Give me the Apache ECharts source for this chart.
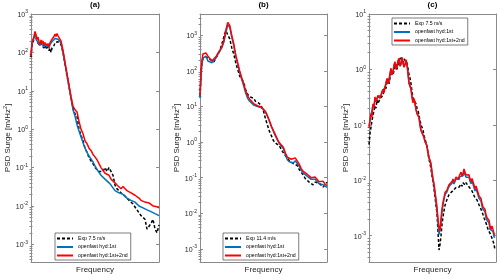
<!DOCTYPE html>
<html><head><meta charset="utf-8">
<script src="https://cdn.jsdelivr.net/npm/echarts@6/dist/echarts.min.js"></script>
<style>html,body{margin:0;padding:0;background:#fff}#c{width:500px;height:280px}</style>
</head><body><div id="c"></div>
<script>
// ---------- panel (a) ----------
const freqA = [0,1,2,3,4,5,6,7,8,9,10,11,12,13,14,15,16,17,18,19,20,21,22,23,24,25,26,27,28,
  30,32,34,36,38,40,42,44,46,48,50,52,54,56,58,60,62,64,66,68,70,72,74,76,78,80,82,84,86,88,90,92,94,96,98,100,102,104,106,108,110,112,114,116,118,120,122,124,126,128];
const expA = [75,150,180,230,280,240,190,210,170,150,170,150,160,130,150,160,120,140,110,130,100,130,140,150,180,170,200,190,170,
  160,100,50,25,13,6.6,3.5,2.5,2.2,1.0,0.7,0.5,0.32,0.25,0.18,0.16,0.126,0.1,0.089,0.079,0.071,0.079,0.1,0.079,0.1,0.089,0.063,0.035,0.028,0.025,0.022,0.02,0.018,0.016,0.014,0.0126,0.0112,0.01,0.0079,0.0071,0.0056,0.005,0.0045,0.0025,0.0028,0.0035,0.0045,0.0025,0.002,0.0032];
const hyd1A = [90,170,190,240,300,260,200,220,180,150,190,160,180,140,170,180,140,160,130,160,150,190,180,210,230,210,240,220,230,
  178,100,50,25,12.6,6.3,3.2,2.2,1.3,0.9,0.63,0.45,0.32,0.25,0.2,0.18,0.14,0.11,0.089,0.079,0.063,0.063,0.05,0.045,0.04,0.035,0.032,0.025,0.025,0.022,0.02,0.02,0.018,0.016,0.016,0.014,0.0126,0.0126,0.0112,0.01,0.01,0.0089,0.0089,0.0079,0.0079,0.0071,0.0071,0.0063,0.006,0.0056];
const hyd12A = [80,180,200,260,350,290,220,250,190,160,210,170,200,150,180,200,150,170,140,180,160,220,200,260,300,260,310,270,280,
  200,112,56,28,14,7.1,4.0,3.2,2.8,1.6,1.0,0.76,0.5,0.42,0.32,0.28,0.22,0.19,0.16,0.126,0.1,0.089,0.071,0.063,0.063,0.05,0.05,0.04,0.035,0.032,0.028,0.032,0.032,0.025,0.024,0.022,0.02,0.019,0.018,0.016,0.014,0.015,0.0126,0.0112,0.012,0.0107,0.01,0.0089,0.0095,0.0089];

// ---------- panel (b) ----------
const freqB = [0,1,2,3,4,6,8,10,12,14,16,18,20,22,24,26,28,30,32,34,36,38,40,42,44,46,48,50,52,54,56,58,60,62,64,66,68,70,72,74,76,78,80,82,84,86,88,90,92,94,96,98,100,102,104,106,108,110,112,114,116,118,120,122,124,126,128];
const expB = [20,80,180,220,230,250,230,210,190,180,230,290,380,560,900,1350,1200,800,450,300,170,110,72,58,48,30,22,19,18,17,14,13,12,10,7.5,4.5,3.0,2.0,1.5,1.1,0.95,0.9,0.78,0.62,0.5,0.42,0.38,0.3,0.27,0.25,0.25,0.22,0.17,0.14,0.12,0.095,0.085,0.075,0.068,0.063,0.075,0.08,0.07,0.065,0.055,0.062,0.075];
const hyd1B = [17,80,170,230,240,260,190,170,170,190,230,290,360,450,640,1150,1950,1700,900,520,260,150,90,58,38,24,17,14,12.5,11,10.5,10,9.2,9.2,8.2,7.0,5.3,3.8,2.7,2.0,1.5,1.15,0.9,0.8,0.66,0.45,0.32,0.28,0.28,0.26,0.3,0.28,0.21,0.16,0.135,0.12,0.11,0.1,0.09,0.085,0.09,0.08,0.068,0.07,0.063,0.058,0.053];
const hyd12B = [20,90,200,300,280,320,260,230,190,210,250,310,380,480,700,1400,2300,1900,1000,580,280,170,100,65,44,27,20,16,14,12,12,10.5,10,9.5,8.5,7.2,5.5,4.0,2.8,2.1,1.6,1.2,0.95,0.85,0.72,0.5,0.38,0.36,0.33,0.3,0.36,0.33,0.24,0.18,0.15,0.14,0.125,0.11,0.1,0.097,0.105,0.095,0.077,0.082,0.08,0.066,0.06];

// ---------- panel (c) ----------
const freqC = [0,1,2,3,4,5,6,7,8,9,10,11,12,13,14,15,16,17,18,19,20,21,22,23,24,25,26,27,28,29,30,31,32,33,34,35,36,37,38,39,40,41,42,43,44,45,46,47,48,49,50,51,52,53,54,55,56,57,58,59,60,61,62,63,64,65,66,67,68,69,70,71,72,73,74,75,76,77,78,79,80,81,82,83,84,85,86,87,88,89,90,91,92,93,94,95,96,97,98,99,100,101,102,103,104,105,106,107,108,109,110,111,112,113,114,115,116,117,118,119,120,121,122,123,124,125,126];
const expC = [0.044,0.07,0.09,0.12,0.15,0.18,0.22,0.2,0.28,0.24,0.26,0.3,0.32,0.28,0.34,0.42,0.5,0.45,0.62,0.68,0.55,0.7,0.85,0.95,0.8,0.95,1.15,1.25,1.0,1.2,1.4,1.55,1.7,1.5,1.3,1.55,1.65,1.5,1.3,1.05,0.8,0.7,0.55,0.4,0.3,0.32,0.3,0.24,0.2,0.18,0.15,0.12,0.1,0.09,0.08,0.065,0.055,0.048,0.04,0.03,0.024,0.02,0.016,0.012,0.0095,0.007,0.005,0.0035,0.0025,0.0012,0.00055,0.0007,0.001,0.0016,0.0022,0.0028,0.0035,0.004,0.0045,0.005,0.0055,0.0057,0.006,0.0062,0.0065,0.0068,0.007,0.0074,0.0078,0.007,0.0075,0.008,0.0085,0.0078,0.009,0.0086,0.0082,0.009,0.0088,0.008,0.0075,0.0072,0.0068,0.0064,0.006,0.0053,0.0048,0.0046,0.0044,0.004,0.0036,0.0033,0.003,0.0027,0.0024,0.0021,0.0019,0.0017,0.0015,0.0013,0.0012,0.0011,0.001,0.0009,0.0008,0.0007,0.00055];
const hyd1C = [0.095,0.12,0.15,0.15,0.23,0.21,0.3,0.27,0.29,0.33,0.35,0.31,0.33,0.39,0.42,0.39,0.47,0.56,0.65,0.56,0.62,0.82,1.0,0.82,0.9,1.15,1.3,1.02,1.12,1.38,1.5,1.15,1.25,1.55,1.5,1.1,1.18,1.42,1.2,0.85,0.58,0.58,0.44,0.32,0.26,0.29,0.24,0.19,0.16,0.16,0.135,0.1,0.08,0.082,0.074,0.059,0.05,0.047,0.041,0.031,0.025,0.022,0.019,0.0135,0.0102,0.008,0.0058,0.0041,0.0028,0.0017,0.00105,0.001,0.0017,0.0027,0.0036,0.0045,0.0055,0.0054,0.0062,0.007,0.0077,0.0073,0.0078,0.0088,0.0096,0.0086,0.0093,0.0106,0.011,0.0098,0.0103,0.0117,0.0125,0.011,0.012,0.0142,0.0138,0.0113,0.0115,0.0122,0.0113,0.0096,0.0087,0.0097,0.009,0.0074,0.0064,0.0071,0.0068,0.0054,0.0047,0.0049,0.0042,0.0034,0.003,0.003,0.0027,0.0021,0.0019,0.0019,0.0017,0.0013,0.0012,0.0013,0.0012,0.00095,0.00092];
const hyd12C = [0.087,0.12,0.16,0.14,0.24,0.2,0.32,0.26,0.28,0.34,0.36,0.3,0.32,0.4,0.44,0.38,0.46,0.58,0.69,0.55,0.63,0.85,1.05,0.8,0.87,1.2,1.38,1.0,1.1,1.45,1.58,1.15,1.26,1.65,1.58,1.1,1.2,1.5,1.26,0.85,0.56,0.6,0.45,0.32,0.25,0.3,0.25,0.19,0.16,0.17,0.14,0.1,0.079,0.085,0.076,0.06,0.05,0.048,0.042,0.032,0.026,0.023,0.02,0.014,0.0107,0.0085,0.0063,0.0045,0.0032,0.002,0.0014,0.0012,0.002,0.003,0.004,0.0048,0.006,0.0058,0.0066,0.0075,0.0083,0.0078,0.0083,0.0095,0.0105,0.0092,0.01,0.0115,0.012,0.0105,0.0112,0.0128,0.014,0.0118,0.0132,0.016,0.0158,0.0125,0.0126,0.0135,0.0126,0.0105,0.0095,0.0108,0.01,0.0082,0.0071,0.0079,0.0076,0.006,0.0052,0.0055,0.0047,0.0038,0.0033,0.0034,0.003,0.0024,0.0021,0.0022,0.0019,0.0015,0.0013,0.0015,0.0014,0.0011,0.00105];

// ---------- labels / ticks ----------
const seriesNames = ['openfast hyd:1st', 'openfast hyd:1st+2nd'];
const expNames = ['Exp 7.5 m/s', 'Exp 11.4 m/s', 'Exp 7.5 m/s'];
const panelTitles = ['(a)', '(b)', '(c)'];
const decadeTicks = [1e-3, 1e-2, 1e-1, 1, 10, 100, 1000];
const xName = 'Frequency';
const yName = 'PSD Surge [m/Hz{s|2}]';

const FONT = 'Liberation Sans, Arial, Helvetica, sans-serif';
const TXT = '#262626';
const BOX = '#8a8a8a';
const C_EXP = '#000000', C_H1 = '#0072BD', C_H12 = '#FF0000';

function minorTicks(lo, hi) {
  const out = [];
  for (let e = lo; e <= hi; e++) for (let m = 2; m <= 9; m++) out.push(m * Math.pow(10, e));
  return out;
}
const minors = minorTicks(-4, 3);
function supLabel(v) { const e = Math.round(Math.log10(v)); return '{b|10}{s|' + e + '}'; }

const panels = [
  { left: 31, width: 128, xmax: 128, ymin: Math.pow(10, -3.46), ymax: 1000, x: freqA, d: [expA, hyd1A, hyd12A] },
  { left: 200, width: 127, xmax: 128, ymin: Math.pow(10, -3.37), ymax: Math.pow(10, 3.6), x: freqB, d: [expB, hyd1B, hyd12B] },
  { left: 369, width: 127, xmax: 127, ymin: Math.pow(10, -3.475), ymax: 10, x: freqC, d: [expC, hyd1C, hyd12C] }
];
const legendPos = [
  { left: 55, top: 233 },
  { left: 223, top: 233 },
  { left: 392, top: 18 }
];

const grid = [], xAxis = [], yAxis = [], series = [], title = [], legend = [];
panels.forEach((p, i) => {
  grid.push({ left: p.left, top: 14, width: p.width, height: 248, containLabel: false });
  xAxis.push({
    gridIndex: i, type: 'value', min: 0, max: p.xmax, position: 'bottom',
    axisLine: { show: true, onZero: false, lineStyle: { color: BOX, width: 1 } },
    axisTick: { show: false }, axisLabel: { show: false }, splitLine: { show: false },
    name: xName, nameLocation: 'middle', nameGap: 4,
    nameTextStyle: { fontFamily: FONT, fontSize: 8, color: TXT, verticalAlign: 'top' }
  });
  xAxis.push({
    gridIndex: i, type: 'value', min: 0, max: p.xmax, position: 'top',
    axisLine: { show: true, onZero: false, lineStyle: { color: BOX, width: 1 } },
    axisTick: { show: false }, axisLabel: { show: false }, splitLine: { show: false }
  });
  const base = { gridIndex: i, type: 'log', logBase: 10, min: p.ymin, max: p.ymax, splitLine: { show: false } };
  yAxis.push(Object.assign({}, base, {
    position: 'left',
    axisLine: { show: true, onZero: false, lineStyle: { color: BOX, width: 1 } },
    axisTick: { show: true, inside: true, length: 3, customValues: decadeTicks, lineStyle: { color: BOX, width: 1 } },
    axisLabel: {
      show: true, customValues: decadeTicks, margin: 3, formatter: supLabel,
      rich: {
        b: { fontFamily: FONT, fontSize: 7, color: TXT, verticalAlign: 'bottom' },
        s: { fontFamily: FONT, fontSize: 5, color: TXT, verticalAlign: 'bottom', padding: [0, 0, 4, 0] }
      }
    },
    name: yName, nameLocation: 'middle', nameGap: 12, nameRotate: 90,
    nameTextStyle: {
      fontFamily: FONT, fontSize: 8, color: TXT,
      rich: { s: { fontFamily: FONT, fontSize: 5.5, color: TXT, verticalAlign: 'bottom', padding: [0, 0, 4, 0] } }
    }
  }));
  yAxis.push(Object.assign({}, base, {
    position: 'left', axisLine: { show: false },
    axisTick: { show: true, inside: true, length: 1.5, customValues: minors, lineStyle: { color: BOX, width: 1 } },
    axisLabel: { show: false }
  }));
  yAxis.push(Object.assign({}, base, {
    position: 'right',
    axisLine: { show: true, onZero: false, lineStyle: { color: BOX, width: 1 } },
    axisTick: { show: true, inside: true, length: 3, customValues: decadeTicks, lineStyle: { color: BOX, width: 1 } },
    axisLabel: { show: false }
  }));
  yAxis.push(Object.assign({}, base, {
    position: 'right', axisLine: { show: false },
    axisTick: { show: true, inside: true, length: 1.5, customValues: minors, lineStyle: { color: BOX, width: 1 } },
    axisLabel: { show: false }
  }));

  const names = [expNames[i], seriesNames[0], seriesNames[1]];
  const cols = [C_EXP, C_H1, C_H12];
  names.forEach((nm, k) => {
    series.push({
      name: nm, type: 'line', xAxisIndex: i * 2, yAxisIndex: i * 4,
      data: p.x.map((xv, j) => [xv, p.d[k][j]]),
      symbol: 'none', showSymbol: false, smooth: false, clip: true,
      lineStyle: { color: cols[k], width: 1.5, type: k === 0 ? [3, 2] : 'solid' },
      itemStyle: { color: cols[k] },
      z: 2 + k
    });
  });

  title.push({
    text: panelTitles[i], left: p.left + p.width / 2, top: 1, textAlign: 'center',
    textStyle: { fontFamily: FONT, fontSize: 8, fontWeight: 'bold', color: '#000' }, padding: 0
  });
  legend.push({
    data: names, orient: 'vertical', left: legendPos[i].left, top: legendPos[i].top,
    padding: [2, 3, 1, 1], itemGap: 1.5, itemWidth: 16, itemHeight: 7,
    borderColor: '#262626', borderWidth: 0.6, backgroundColor: '#fff',
    selectedMode: false,
    itemStyle: { opacity: 0, borderWidth: 0 },
    textStyle: { fontFamily: FONT, fontSize: 5.2, color: '#000', lineHeight: 7 }
  });
});

const chart = echarts.init(document.getElementById('c'), null, { renderer: 'canvas' });
chart.setOption({
  animation: false, backgroundColor: '#fff',
  grid, xAxis, yAxis, series, title, legend
});
</script>
</body></html>
